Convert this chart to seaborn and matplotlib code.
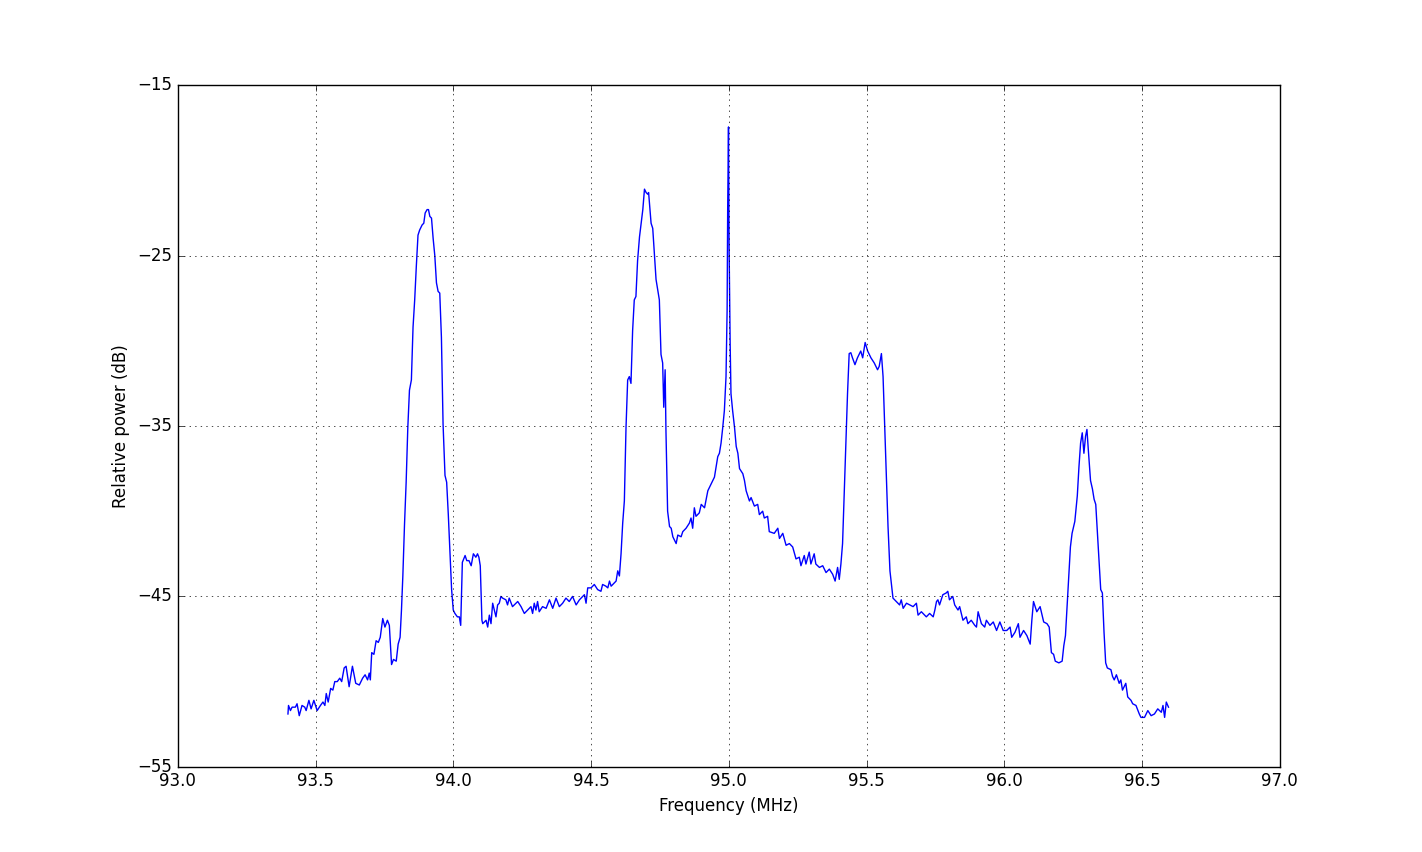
import matplotlib
matplotlib.use("Agg")
import matplotlib.pyplot as plt
import seaborn as sns

# spectrum (MHz, dB)
freq_mhz = [
    93.400, 93.402, 93.409, 93.415, 93.427, 93.433, 93.441, 93.451, 93.461, 93.466,
    93.476, 93.484, 93.494, 93.506, 93.518, 93.527, 93.534, 93.539, 93.546, 93.555,
    93.563, 93.570, 93.579, 93.588, 93.595, 93.604, 93.611, 93.622, 93.634, 93.646,
    93.659, 93.671, 93.680, 93.689, 93.695, 93.699, 93.704, 93.712, 93.720, 93.728,
    93.735, 93.744, 93.752, 93.761, 93.768, 93.776, 93.783, 93.793, 93.800, 93.807,
    93.812, 93.817, 93.823, 93.829, 93.835, 93.841, 93.848, 93.854, 93.860, 93.866,
    93.872, 93.878, 93.887, 93.893, 93.898, 93.905, 93.910, 93.915, 93.921, 93.927,
    93.933, 93.939, 93.945, 93.951, 93.957, 93.963, 93.970, 93.976, 93.982, 93.988,
    93.994, 94.000, 94.006, 94.015, 94.022, 94.027, 94.033, 94.043, 94.049, 94.057,
    94.065, 94.073, 94.082, 94.088, 94.093, 94.098, 94.104,
    94.107, 94.119, 94.125, 94.131, 94.137, 94.143, 94.149, 94.155, 94.161, 94.167,
    94.173, 94.179, 94.191, 94.197, 94.203, 94.215, 94.228, 94.234, 94.246, 94.258,
    94.270, 94.282, 94.288, 94.294, 94.300, 94.306, 94.312, 94.324, 94.337, 94.349,
    94.361, 94.373, 94.385, 94.397, 94.409, 94.421, 94.433, 94.446, 94.458, 94.476,
    94.482, 94.488, 94.500, 94.512, 94.524, 94.536, 94.542, 94.554, 94.561, 94.567,
    94.573, 94.585, 94.591, 94.597, 94.603, 94.609, 94.615, 94.621, 94.627, 94.633,
    94.639, 94.645, 94.651, 94.657, 94.663, 94.669, 94.676, 94.682, 94.688, 94.694,
    94.700, 94.706, 94.709, 94.718, 94.724, 94.730, 94.736, 94.748, 94.754, 94.760,
    94.764, 94.769, 94.772, 94.778, 94.785, 94.791, 94.797, 94.809, 94.815, 94.827,
    94.833, 94.845, 94.857, 94.863, 94.869, 94.875, 94.881, 94.893,
    94.900, 94.912, 94.924, 94.936, 94.948, 94.960, 94.966, 94.972, 94.978, 94.984,
    94.990, 94.994, 94.996, 94.999, 95.001, 95.005, 95.008, 95.014, 95.021, 95.027,
    95.033, 95.039, 95.051, 95.057, 95.063, 95.075, 95.081, 95.093, 95.105, 95.111,
    95.123, 95.129, 95.141, 95.147, 95.165, 95.178, 95.184, 95.196, 95.208, 95.220,
    95.232, 95.244, 95.256, 95.262, 95.274, 95.280, 95.292, 95.298, 95.310, 95.316,
    95.329, 95.341, 95.353, 95.365, 95.377, 95.386, 95.395, 95.401, 95.407, 95.413,
    95.419, 95.425, 95.431, 95.437, 95.443, 95.449, 95.458, 95.467, 95.479, 95.486,
    95.495, 95.504, 95.516, 95.528, 95.540, 95.546, 95.554, 95.560, 95.566, 95.572,
    95.578, 95.585,
    95.596, 95.608, 95.620, 95.626, 95.633, 95.645, 95.657, 95.669, 95.681, 95.687,
    95.699, 95.705, 95.717, 95.729, 95.742, 95.748, 95.754,
    95.759, 95.765, 95.777, 95.789, 95.795, 95.801, 95.813, 95.820, 95.832, 95.838,
    95.844, 95.850, 95.862, 95.868, 95.880, 95.893, 95.899, 95.905, 95.917, 95.929,
    95.935, 95.948, 95.960, 95.972, 95.984, 95.996, 96.009, 96.021, 96.027, 96.039,
    96.051, 96.057, 96.070, 96.082, 96.094, 96.100, 96.106, 96.118, 96.130, 96.143,
    96.155, 96.163, 96.171, 96.179, 96.185, 96.198, 96.210, 96.216, 96.222, 96.228,
    96.234, 96.240, 96.246, 96.256, 96.265, 96.271, 96.277, 96.283, 96.289, 96.295,
    96.300, 96.305, 96.313, 96.320, 96.326, 96.332, 96.338, 96.344, 96.350, 96.356,
    96.362, 96.368, 96.374, 96.387, 96.393, 96.399, 96.407, 96.417, 96.423, 96.429,
    96.441, 96.448, 96.460, 96.466, 96.478, 96.490, 96.496, 96.509, 96.521, 96.533,
    96.545, 96.557, 96.570, 96.576, 96.582, 96.588, 96.596,
]

power_db = [
    -51.9, -51.4, -51.7, -51.5, -51.5, -51.3, -52.0, -51.4, -51.5, -51.7,
    -51.1, -51.6, -51.1, -51.7, -51.4, -51.2, -51.4, -50.7, -51.2, -50.4,
    -50.5, -50.0, -50.0, -49.8, -50.0, -49.2, -49.1, -50.3, -49.1, -50.1,
    -50.2, -49.8, -49.6, -49.9, -49.5, -49.9, -48.3, -48.4, -47.6, -47.7,
    -47.4, -46.3, -46.8, -46.4, -46.7, -49.0, -48.7, -48.8, -47.8, -47.4,
    -45.8, -43.8, -40.8, -38.3, -35.1, -32.9, -32.3, -29.2, -27.6, -25.6,
    -23.8, -23.5, -23.2, -23.1, -22.5, -22.3, -22.3, -22.7, -22.8, -24.0,
    -25.0, -26.6, -27.1, -27.2, -29.8, -34.9, -37.9, -38.3, -40.2, -42.4,
    -44.6, -45.8, -46.0, -46.2, -46.2, -46.7, -43.0, -42.6, -42.9, -42.9,
    -43.2, -42.5, -42.7, -42.5, -42.7, -43.2, -46.4,
    -46.6, -46.4, -46.8, -46.1, -46.6, -45.4, -45.8, -46.2, -45.5, -45.4,
    -45.0, -45.1, -45.2, -45.5, -45.1, -45.6, -45.4, -45.3, -45.6, -46.0,
    -45.8, -45.6, -46.0, -45.4, -45.8, -45.3, -45.9, -45.6, -45.7, -45.2,
    -45.7, -45.1, -45.6, -45.4, -45.1, -45.3, -45.0, -45.5, -45.2, -44.9,
    -45.4, -44.5, -44.5, -44.3, -44.6, -44.7, -44.3, -44.4, -44.5, -44.1,
    -44.4, -44.2, -44.1, -43.5, -43.8, -42.5, -40.7, -39.4, -35.1, -32.3,
    -32.1, -32.5, -29.4, -27.6, -27.4, -25.3, -23.9, -23.1, -22.3, -21.1,
    -21.3, -21.4, -21.3, -23.1, -23.4, -24.9, -26.4, -27.6, -30.8, -31.3,
    -33.9, -31.7, -35.3, -40.0, -40.9, -41.0, -41.5, -41.9, -41.4, -41.5,
    -41.2, -41.0, -40.7, -40.4, -41.0, -39.8, -40.3, -40.1,
    -39.6, -39.8, -38.8, -38.4, -38.0, -36.8, -36.6, -36.0, -35.1, -34.1,
    -32.1, -28.2, -22.3, -17.45, -24.3, -30.2, -33.1, -34.1, -35.1, -36.2,
    -36.6, -37.5, -37.8, -38.2, -38.8, -39.4, -39.2, -39.7, -39.6, -40.2,
    -40.0, -40.4, -40.3, -41.2, -41.3, -41.0, -41.6, -41.3, -42.0, -41.9,
    -42.1, -42.8, -42.7, -43.2, -42.6, -43.1, -42.4, -43.1, -42.5, -43.1,
    -43.3, -43.2, -43.6, -43.4, -43.7, -44.1, -43.3, -44.0, -43.1, -41.9,
    -39.0, -36.0, -33.1, -30.75, -30.7, -31.0, -31.4, -31.0, -30.6, -31.0,
    -30.1, -30.6, -31.0, -31.3, -31.7, -31.5, -30.75, -32.1, -35.1, -38.0,
    -40.9, -43.5,
    -45.1, -45.3, -45.5, -45.2, -45.7, -45.4, -45.5, -45.6, -45.4, -46.1,
    -45.9, -46.0, -46.2, -46.0, -46.2, -45.8, -45.3,
    -45.2, -45.5, -44.9, -44.8, -44.7, -45.2, -45.0, -45.5, -45.8, -45.6,
    -46.0, -46.4, -46.2, -46.6, -46.4, -46.7, -46.8, -45.9, -46.6, -46.8,
    -46.4, -46.7, -46.5, -47.0, -46.5, -47.0, -47.0, -46.8, -47.4, -47.1,
    -46.6, -47.4, -47.0, -47.3, -47.8, -46.4, -45.3, -45.9, -45.6, -46.5,
    -46.6, -46.8, -48.3, -48.4, -48.8, -48.9, -48.8, -47.9, -47.3, -45.6,
    -43.8, -42.1, -41.3, -40.6, -39.1, -37.4, -36.0, -35.4, -36.6, -35.6,
    -35.2, -36.4, -38.2, -38.7, -39.3, -39.6, -41.3, -43.0, -44.6, -44.8,
    -47.1, -48.9, -49.2, -49.3, -49.7, -49.9, -49.6, -50.1, -49.9, -50.5,
    -50.1, -50.9, -51.1, -51.3, -51.4, -51.9, -52.1, -52.1, -51.7, -52.0,
    -51.9, -51.6, -51.8, -51.4, -52.1, -51.2, -51.5,
]

x_ticks = [93.0, 93.5, 94.0, 94.5, 95.0, 95.5, 96.0, 96.5, 97.0]
y_ticks = [-55, -45, -35, -25, -15]

plt.style.use("classic")
plt.rcParams["figure.facecolor"] = "white"
plt.rcParams["savefig.facecolor"] = "white"

fig, ax = plt.subplots(figsize=(14.22, 8.52), dpi=100)
fig.subplots_adjust(left=0.125, right=0.9, bottom=0.1, top=0.9)

sns.lineplot(x=freq_mhz, y=power_db, ax=ax, color="b", linewidth=1.0,
             estimator=None, sort=False)

ax.set_xlim(93.0, 97.0)
ax.set_ylim(-55, -15)
ax.set_xticks(x_ticks)
ax.set_xticklabels([f"{t:.1f}" for t in x_ticks])
ax.set_yticks(y_ticks)
ax.grid(True, color="k", linestyle=":", linewidth=0.5)
ax.set_xlabel("Frequency (MHz)")
ax.set_ylabel("Relative power (dB)")

fig.savefig("out.png", dpi=100)
